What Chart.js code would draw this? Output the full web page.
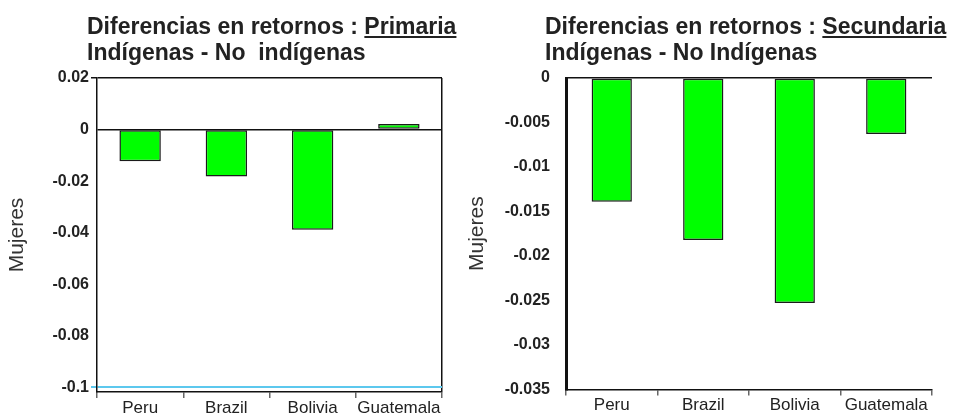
<!DOCTYPE html>
<html lang="es">
<head>
<meta charset="utf-8">
<title>Diferencias en retornos</title>
<script src="https://cdn.jsdelivr.net/npm/chart.js@4.4.1/dist/chart.umd.min.js"></script>
<style>
  html, body { margin: 0; padding: 0; background: #fff; }
  body { width: 954px; height: 415px; position: relative; overflow: hidden; font-family: "Liberation Sans", Arial, sans-serif; }
  .titulo { position: absolute; top: 13px; z-index: 2; font-weight: bold; font-size: 23px; line-height: 26px; color: #222; white-space: pre; }
  .panel { position: absolute; top: 0; height: 415px; }
  #panelPrimaria { left: 0; width: 462px; }
  #panelSecundaria { left: 462px; width: 492px; }
</style>
</head>
<body>
<div class="titulo" style="left:87px">Diferencias en retornos : <u>Primaria</u><br>Indígenas - No  indígenas</div>
<div class="titulo" style="left:545px">Diferencias en retornos : <u>Secundaria</u><br>Indígenas - No Indígenas</div>
<div class="panel" id="panelPrimaria"><canvas id="graficoPrimaria"></canvas></div>
<div class="panel" id="panelSecundaria"><canvas id="graficoSecundaria"></canvas></div>
<script>
// ===== Datos =====
const paises = ["Peru", "Brazil", "Bolivia", "Guatemala"];
const valoresPrimaria = [-0.0123, -0.0182, -0.0389, 0.0022];
const valoresSecundaria = [-0.0139, -0.0182, -0.0253, -0.0063];
const ticksPrimaria = [0.02, 0, -0.02, -0.04, -0.06, -0.08, -0.1];
const ticksSecundaria = [0, -0.005, -0.01, -0.015, -0.02, -0.025, -0.03, -0.035];

const fuente = "'Liberation Sans', Arial, sans-serif";
const transparente = "rgba(0,0,0,0)";

// ===== Grafico de barras =====
function crearGrafico(id, valores, ticksY, cfg) {
  return new Chart(document.getElementById(id), {
    type: "bar",
    data: {
      labels: paises,
      datasets: [{
        data: valores,
        backgroundColor: "#00ff00",
        borderColor: "#1a1a1a",
        borderWidth: 1.5,
        borderSkipped: false,
        barPercentage: cfg.anchoBarra,
        categoryPercentage: 1
      }]
    },
    options: {
      responsive: true,
      maintainAspectRatio: false,
      animation: false,
      layout: { padding: { top: 78, right: cfg.margenDerecho, bottom: 0, left: 0 } },
      plugins: { legend: { display: false }, tooltip: { enabled: false } },
      scales: {
        x: {
          afterFit: s => { s.height = 23; },
          ticks: {
            font: { family: fuente, size: 17 }, color: "#222", padding: 0,
            autoSkip: false, maxRotation: 0, minRotation: 0
          },
          grid: {
            offset: true,
            drawOnChartArea: cfg.borde,
            // solo la ultima linea (borde derecho) es visible
            color: c => c.type === "scale" ? "#111" : transparente,
            lineWidth: 1.5,
            tickColor: "#666",
            tickLength: 6,
            tickWidth: 1.5
          },
          border: { color: "#111", width: 1.5 }
        },
        y: {
          min: cfg.minY,
          max: ticksY[0],
          afterBuildTicks: s => { s.ticks = ticksY.map(v => ({ value: v })); },
          afterFit: s => { s.width = cfg.anchoEje; },
          ticks: {
            font: { family: fuente, size: 16, weight: "bold" },
            color: "#222",
            padding: cfg.separacion,
            callback: v => String(v)
          },
          grid: {
            drawTicks: cfg.borde,
            tickLength: 6,
            color: c => {
              const v = c.tick.value;
              if (v === 0) return "#111";
              if (cfg.borde && v === ticksY[0]) return "#111";
              if (cfg.borde && v === ticksY[ticksY.length - 1]) return "#5cc8ee";
              return transparente;
            },
            tickColor: c => {
              const v = c.tick.value;
              if (v === ticksY[0]) return "#111";
              if (v === ticksY[ticksY.length - 1]) return "#5cc8ee";
              return transparente;
            },
            lineWidth: c => c.tick.value === ticksY[ticksY.length - 1] ? 2 : 1.5
          },
          border: { color: "#111", width: cfg.grosorEje },
          title: {
            display: true,
            text: "Mujeres",
            font: { family: fuente, size: 21 },
            color: "#333",
            padding: { top: cfg.margenTitulo, bottom: 0 }
          }
        }
      }
    }
  });
}

// ===== Inicializacion =====
crearGrafico("graficoPrimaria", valoresPrimaria, ticksPrimaria, {
  minY: -0.1018, anchoBarra: 0.48, margenDerecho: 20, anchoEje: 97,
  separacion: 2, grosorEje: 1.5, margenTitulo: 5, borde: true
});
crearGrafico("graficoSecundaria", valoresSecundaria, ticksSecundaria, {
  minY: -0.035, anchoBarra: 0.44, margenDerecho: 22, anchoEje: 104,
  separacion: 16, grosorEje: 3, margenTitulo: 3, borde: false
});
</script>
</body>
</html>
